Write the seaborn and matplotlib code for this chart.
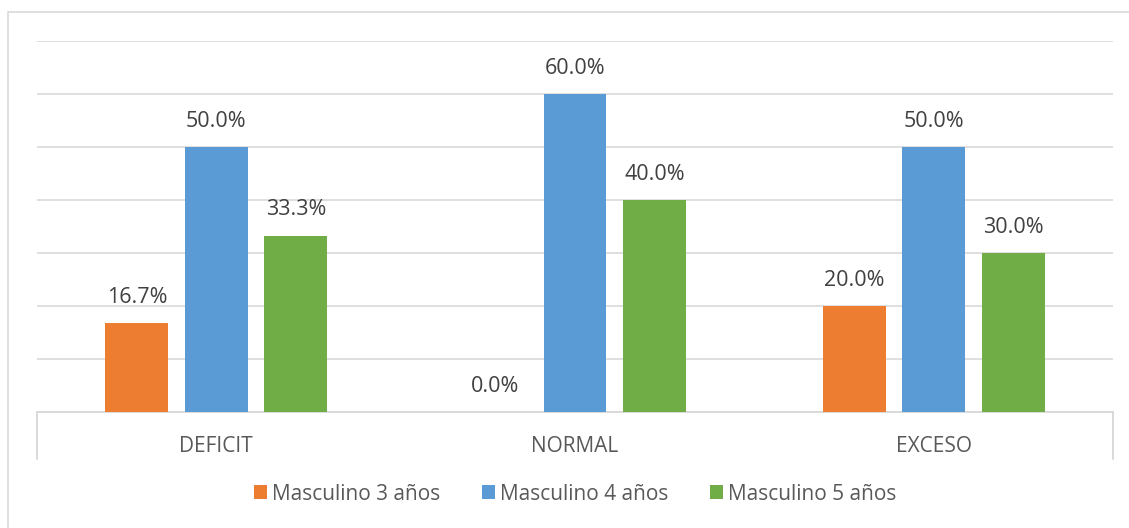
import matplotlib
matplotlib.use("Agg")
import matplotlib.pyplot as plt
from matplotlib.patches import Rectangle, Patch
from matplotlib.lines import Line2D
import seaborn as sns
import pandas as pd

categories = ["DEFICIT", "NORMAL", "EXCESO"]
series_names = ["Masculino 3 años", "Masculino 4 años", "Masculino 5 años"]
masc_3 = [16.7, 0.0, 20.0]
masc_4 = [50.0, 60.0, 50.0]
masc_5 = [33.3, 40.0, 30.0]
colors = ["#ED7D31", "#5B9BD5", "#70AD47"]

rows = []
for name, vals in zip(series_names, [masc_3, masc_4, masc_5]):
    for cat, v in zip(categories, vals):
        rows.append({"categoria": cat, "serie": name, "valor": v})
df = pd.DataFrame(rows)

sns.set_theme(style="white")
plt.rcParams["font.family"] = ["Open Sans", "DejaVu Sans"]

W, H = 1129, 528
fig = plt.figure(figsize=(W / 100, H / 100), dpi=100)
ax = fig.add_axes([37 / W, 1 - 412 / H, (1113 - 37) / W, (412 - 41) / H])

sns.barplot(data=df, x="categoria", y="valor", hue="serie", order=categories,
            hue_order=series_names, palette=colors, width=0.665, gap=0.21,
            saturation=1, legend=False, ax=ax, zorder=3, linewidth=0)

ax.set_xlim(-0.5, 2.5)
ax.set_ylim(0, 70)
ax.set_yticks(range(0, 71, 10))
ax.set_yticklabels([])
ax.tick_params(axis="y", length=0)
ax.tick_params(axis="x", length=0, pad=17)
ax.yaxis.grid(True, color="#D9D9D9", linewidth=1.2, zorder=0)
ax.set_axisbelow(True)
for s in ["top", "right", "left"]:
    ax.spines[s].set_visible(False)
ax.spines["bottom"].set_color("#D9D9D9")
ax.spines["bottom"].set_linewidth(1.4)
ax.set_xlabel("")
ax.set_ylabel("")
for lbl in ax.get_xticklabels():
    lbl.set_fontsize(15)
    lbl.set_color("#595959")

# separator ticks below both ends of the category axis
for xs in (-0.5, 2.5):
    ax.add_line(Line2D([xs, xs], [0, -47 / (412 - 41)],
                       transform=ax.get_xaxis_transform(),
                       color="#D9D9D9", linewidth=1.4, clip_on=False))

# value labels above each bar
for container in ax.containers:
    ax.bar_label(container, labels=[f"{b.get_height():.1f}%" for b in container],
                 padding=11, fontsize=15.5, color="#404040")

# legend below the axis
handles = [Patch(facecolor=c, edgecolor="none") for c in colors]
fig.legend(handles, series_names, loc="center", bbox_to_anchor=(575 / W, 1 - 494 / H),
           ncol=3, frameon=False, fontsize=15, handlelength=0.62, handleheight=0.62,
           handletextpad=0.25, columnspacing=2.0, labelcolor="#595959")

# outer chart frame
fig.patches.append(Rectangle((8 / W, -0.1), 1.2, 1 - 12 / H + 0.1,
                             transform=fig.transFigure, fill=False,
                             edgecolor="#D9D9D9", linewidth=1.2))

fig.savefig("out.png", dpi=100)
